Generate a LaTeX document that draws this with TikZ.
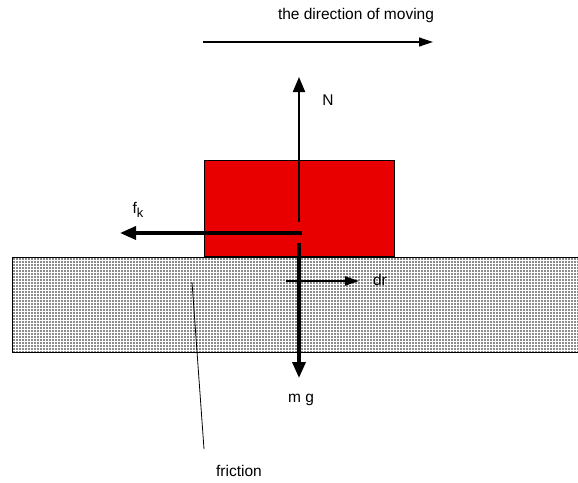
\documentclass[tikz,border=0pt]{standalone}
\usepackage{fontspec}
\setmainfont{Liberation Sans}
\usetikzlibrary{arrows.meta, patterns}

\begin{document}
\begin{tikzpicture}[
  x=1pt, y=-1pt,
  label/.style={font=\fontsize{15.5}{18}\selectfont, inner sep=0pt},
  force/.style={-{Triangle[length=15pt, width=12pt]}, line width=2pt},
  bigforce/.style={-{Triangle[length=16pt, width=13pt]}, line width=3.5pt},
  thinforce/.style={-{Triangle[length=14pt, width=9pt]}, line width=1.2pt}
]
  \useasboundingbox (0,0) rectangle (578,482);

  % Floor with dotted texture.
  \fill[black!45] (12,257) rectangle (590,352);
  \fill[pattern=grid, pattern color=white] (12,257) rectangle (590,352);
  \draw[line width=0.8pt] (590,257) -- (12,257) -- (12,352) -- (590,352);

  % Block.
  \node[draw, fill={rgb,255:red,232;green,0;blue,0}, line width=0.6pt,
        minimum width=190pt, minimum height=96pt, inner sep=0pt,
        anchor=south west] (block) at (204,257) {};

  % Direction of moving.
  \coordinate (dir1) at (203,42);
  \coordinate (dir2) at (433,42);
  \draw[thinforce] (dir1) -- (dir2);
  \node[label] (dirtxt) at (356,15) {the direction of moving};

  % Normal force.
  \coordinate (nbot) at (299,222);
  \coordinate (ntop) at (299,77);
  \draw[force] (nbot) -- (ntop);
  \node[label] (ntxt) at (328,100) {N};

  % Kinetic friction.
  \coordinate (fstart) at (302,233);
  \coordinate (fend) at (120,233);
  \draw[bigforce] (fstart) -- (fend);
  \node[label] (ftxt) at (138,210) {f\raisebox{-4pt}{\fontsize{13}{15}\selectfont k}};

  % Weight.
  \coordinate (gtop) at (299,243);
  \coordinate (gbot) at (299,378);
  \draw[bigforce] (gtop) -- (gbot);
  \node[label] (gtxt) at (301,400) {m g};

  % Displacement.
  \coordinate (drstart) at (286,281);
  \coordinate (drend) at (359,281);
  \draw[force, -{Triangle[length=14pt, width=9pt]}] (drstart) -- (drend);
  \node[label] (drtxt) at (380,280) {dr};

  % Friction pointer.
  \coordinate (fpa) at (192,282);
  \coordinate (fpb) at (204,449);
  \draw[line width=0.8pt] (fpa) -- (fpb);
  \node[label] (frictxt) at (239,471) {friction};
\end{tikzpicture}
\end{document}
